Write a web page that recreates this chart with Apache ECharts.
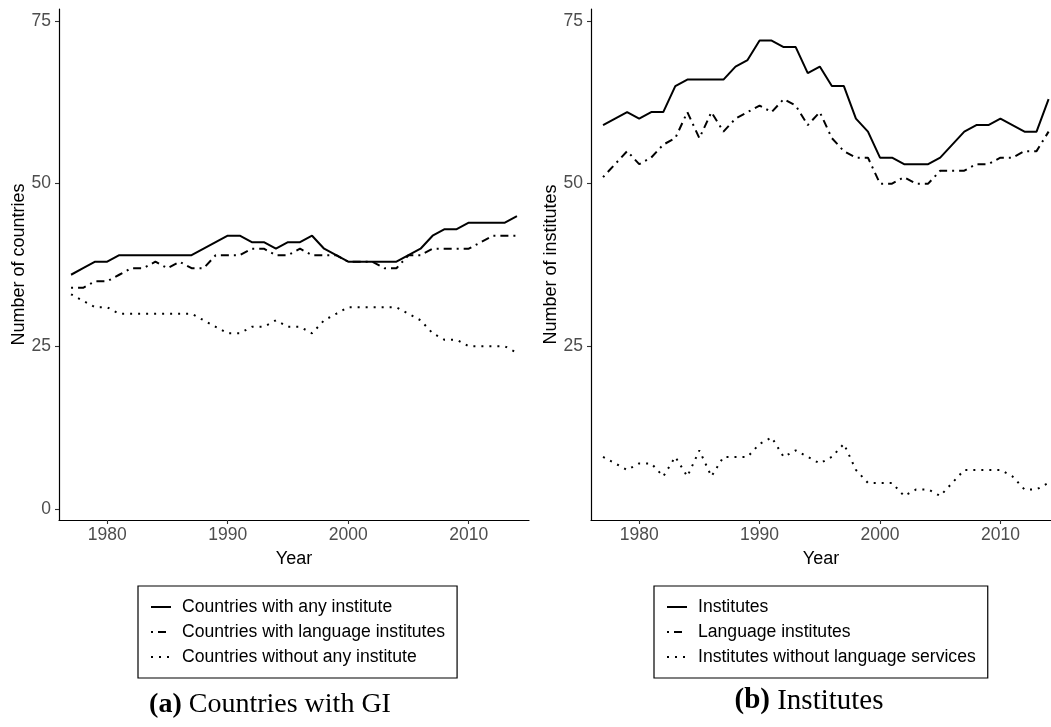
<!DOCTYPE html>
<html><head><meta charset="utf-8">
<script src="https://cdn.jsdelivr.net/npm/echarts@6/dist/echarts.min.js"></script>
<style>html,body{margin:0;padding:0;background:#fff}#c{width:1051px;height:727px}</style>
</head><body><div id="c"></div>
<script>
const years = [1977,1978,1979,1980,1981,1982,1983,1984,1985,1986,1987,1988,1989,1990,1991,1992,1993,1994,1995,1996,1997,1998,1999,2000,2001,2002,2003,2004,2005,2006,2007,2008,2009,2010,2011,2012,2013,2014];
const countriesAny  = [36,37,38,38,39,39,39,39,39,39,39,40,41,42,42,41,41,40,41,41,42,40,39,38,38,38,38,38,39,40,42,43,43,44,44,44,44,45];
const countriesLang = [34,34,35,35,36,37,37,38,37,38,37,37,39,39,39,40,40,39,39,40,39,39,39,38,38,38,37,37,39,39,40,40,40,40,41,42,42,42];
const countriesNone = [33,32,31,31,30,30,30,30,30,30,30,29,28,27,27,28,28,29,28,28,27,29,30,31,31,31,31,31,30,29,27,26,26,25,25,25,25,24];
const institutes    = [59,60,61,60,61,61,65,66,66,66,66,68,69,72,72,71,71,67,68,65,65,60,58,54,54,53,53,53,54,56,58,59,59,60,59,58,58,63];
const langInstitutes= [51,53,55,53,54,56,57,61,57,61,58,60,61,62,61,63,62,59,61,57,55,54,54,50,50,51,50,50,52,52,52,53,53,54,54,55,55,58];
const noLangInst    = [8,7,6,7,7,5,8,5,9,5,8,8,8,10,11,8,9,8,7,8,10,6,4,4,4,2,3,3,2,4,6,6,6,6,5,3,3,4];
const xTicks = [1980,1990,2000,2010];
const yTicksLeft = [0,25,50,75];
const yTicksRight = [25,50,75];
const leftNames = ['Countries with any institute','Countries with language institutes','Countries without any institute'];
const rightNames = ['Institutes','Language institutes','Institutes without language services'];

const FONT = '"Liberation Sans", Arial, Helvetica, sans-serif';
const SERIF = '"Liberation Serif", "DejaVu Serif", serif';
const SOLID = 'solid', DOTDASH = [2,5,8,5], DOTTED = [2,6];
const pairs = arr => years.map((y,i)=>[y, arr[i]]);

function xAxis(gi, max){
  return {
    type:'value', gridIndex:gi, min:1976, max:max,
    axisLine:{show:true, onZero:false, lineStyle:{color:'#000', width:1.2}},
    axisTick:{show:true, customValues:xTicks, length:4, lineStyle:{color:'#333', width:1.1}},
    axisLabel:{customValues:xTicks, formatter:v=>String(v), fontSize:17.5, color:'#4D4D4D', fontFamily:FONT, margin:6},
    splitLine:{show:false},
    name:'Year', nameLocation:'middle', nameGap:30,
    nameTextStyle:{fontSize:18, color:'#000', fontFamily:FONT}
  };
}
function yAxis(gi, ticks, name){
  return {
    type:'value', gridIndex:gi, min:-1.7, max:76.85,
    axisLine:{show:true, onZero:false, lineStyle:{color:'#000', width:1.2}},
    axisTick:{show:true, customValues:ticks, length:4, lineStyle:{color:'#333', width:1.1}},
    axisLabel:{customValues:ticks, formatter:v=>String(v), fontSize:17.5, color:'#4D4D4D', fontFamily:FONT, margin:8},
    splitLine:{show:false},
    name:name, nameLocation:'middle', nameGap:29,
    nameTextStyle:{fontSize:18, color:'#000', fontFamily:FONT}
  };
}
function series(name, arr, gi, type){
  return {
    name:name, type:'line', xAxisIndex:gi, yAxisIndex:gi, data:pairs(arr),
    symbol:'none', animation:false, silent:true,
    lineStyle:{color:'#000', width:2, type:type, cap:'butt'},
    itemStyle:{color:'#000'}
  };
}
function legend(names, left){
  return {
    data:names, orient:'vertical', left:left, top:586,
    itemWidth:20, itemHeight:10, itemGap:7,
    padding:[12,12,12,12], borderColor:'#000', borderWidth:1.2,
    backgroundColor:'#fff',
    itemStyle:{opacity:0, borderWidth:0},
    textStyle:{fontSize:17.6, color:'#000', fontFamily:FONT, padding:[0,0,0,6]},
    selectedMode:false
  };
}
const chart = echarts.init(document.getElementById('c'));
chart.setOption({
  animation:false,
  backgroundColor:'#fff',
  grid:[
    {left:59, top:9, width:470, height:511},
    {left:591, top:9, right:0, height:511}
  ],
  xAxis:[xAxis(0, 2015), xAxis(1, 2014.2)],
  yAxis:[yAxis(0, yTicksLeft, 'Number of countries'), yAxis(1, yTicksRight, 'Number of institutes')],
  legend:[legend(leftNames, 138), legend(rightNames, 654)],
  series:[
    series(leftNames[0], countriesAny, 0, SOLID),
    series(leftNames[1], countriesLang, 0, DOTDASH),
    series(leftNames[2], countriesNone, 0, DOTTED),
    series(rightNames[0], institutes, 1, SOLID),
    series(rightNames[1], langInstitutes, 1, DOTDASH),
    series(rightNames[2], noLangInst, 1, DOTTED)
  ],
  graphic:[
    {type:'text', x:270, y:705, style:{text:'{b|(a)} Countries with GI', fontSize:28, fontFamily:SERIF, fill:'#000', align:'center', verticalAlign:'middle', rich:{b:{fontWeight:'bold', fontSize:28, fontFamily:SERIF}}}},
    {type:'text', x:809, y:701, style:{text:'{b|(b)} Institutes', fontSize:29, fontFamily:SERIF, fill:'#000', align:'center', verticalAlign:'middle', rich:{b:{fontWeight:'bold', fontSize:29, fontFamily:SERIF}}}}
  ]
});
</script></body></html>
